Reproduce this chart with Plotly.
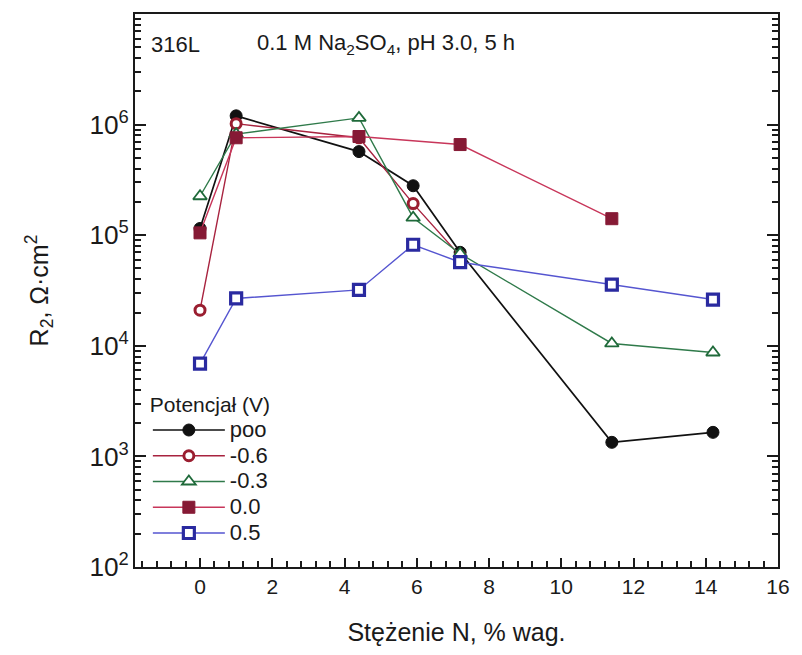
import plotly.graph_objects as go

# Data (N concentration, wt%) and R2 values (ohm*cm2)
x_poo = [0, 1, 4.4, 5.9, 7.2, 11.4, 14.2]
y_poo = [1.15e5, 1.2e6, 5.7e5, 2.8e5, 7.0e4, 1.34e3, 1.65e3]

x_m06 = [0, 1, 4.4, 5.9, 7.2]
y_m06 = [2.1e4, 1.02e6, 7.6e5, 1.93e5, 6.5e4]

x_m03 = [0, 1, 4.4, 5.9, 7.2, 11.4, 14.2]
y_m03 = [2.25e5, 8.2e5, 1.15e6, 1.44e5, 6.8e4, 1.05e4, 8.7e3]

x_00 = [0, 1, 4.4, 7.2, 11.4]
y_00 = [1.05e5, 7.6e5, 7.8e5, 6.6e5, 1.41e5]

x_05 = [0, 1, 4.4, 5.9, 7.2, 11.4, 14.2]
y_05 = [6.9e3, 2.68e4, 3.2e4, 8.2e4, 5.7e4, 3.58e4, 2.62e4]

series_names = ["poo", "-0.6", "-0.3", "0.0", "0.5"]

FONT = "Liberation Sans, Arial, sans-serif"
INK = "#1a1a1a"

fig = go.Figure()

def lab(s):
    return '<span style="font-size:22px">' + s + '</span>'

def add(x, y, name, lcolor, symbol, mcolor, mfill, lwidth=1.4, msize=10, mlw=2.2):
    fig.add_trace(go.Scatter(
        x=x, y=y, name=lab(name), mode="lines+markers",
        line=dict(color=lcolor, width=lwidth),
        marker=dict(symbol=symbol, size=msize, color=mfill,
                    line=dict(color=mcolor, width=mlw)),
    ))

add(x_poo, y_poo, series_names[0], "#111111", "circle", "#111111", "#111111", lwidth=1.7, msize=12, mlw=1)
add(x_m06, y_m06, series_names[1], "#a8233f", "circle", "#9a1e30", "white", msize=10, mlw=3)
add(x_m03, y_m03, series_names[2], "#2f7a4a", "triangle-up", "#1f6a3a", "white", msize=12, mlw=1.8)
add(x_00, y_00, series_names[3], "#c8365a", "square", "#861a35", "#861a35", msize=12, mlw=1)
add(x_05, y_05, series_names[4], "#5555d0", "square", "#2a2aa0", "white", msize=11, mlw=3.2)

fig.update_layout(
    width=802, height=655,
    margin=dict(l=135, r=17, t=13, b=88),
    paper_bgcolor="white", plot_bgcolor="white",
    font=dict(family=FONT, size=20, color=INK),
    showlegend=True,
    legend=dict(
        title=dict(text='<span style="font-size:21px">Potencjał (V)</span>', font=dict(size=17)),
        x=0.02, y=0.32, xanchor="left", yanchor="top",
        bgcolor="rgba(0,0,0,0)", font=dict(size=17.5),
        itemwidth=72, tracegroupgap=0,
    ),
    xaxis=dict(
        range=[-1.8, 16], tick0=0, dtick=2,
        ticks="inside", ticklen=9, tickwidth=2, tickcolor=INK,
        showline=True, linecolor=INK, linewidth=2, mirror=True,
        showgrid=False, zeroline=False,
        tickfont=dict(size=21),
        minor=dict(tick0=0, dtick=0.4, ticks="inside", ticklen=6, tickwidth=1.6, tickcolor=INK, showgrid=False),
        title=dict(text="Stężenie N, % wag.", font=dict(size=25), standoff=26),
    ),
    yaxis=dict(
        type="log", range=[2, 7], dtick=1, exponentformat="power",
        ticks="inside", ticklen=11, tickwidth=2, tickcolor=INK,
        showline=True, linecolor=INK, linewidth=2, mirror="ticks",
        showgrid=False, zeroline=False,
        tickfont=dict(size=21),
        minor=dict(dtick="D1", ticks="inside", ticklen=6, tickwidth=1.6, tickcolor=INK, showgrid=False),
        title=dict(text="R<sub>2</sub>, Ω·cm<sup>2</sup>", font=dict(size=25), standoff=34),
    ),
)

fig.add_annotation(x=0.022, y=0.945, xref="paper", yref="paper", xanchor="left", yanchor="middle",
                   text="316L", showarrow=False, font=dict(size=22))
fig.add_annotation(x=0.186, y=0.945, xref="paper", yref="paper", xanchor="left", yanchor="middle",
                   text="0.1 M Na<sub>2</sub>SO<sub>4</sub>, pH 3.0, 5 h", showarrow=False, font=dict(size=22))

fig.write_html("out.html")
